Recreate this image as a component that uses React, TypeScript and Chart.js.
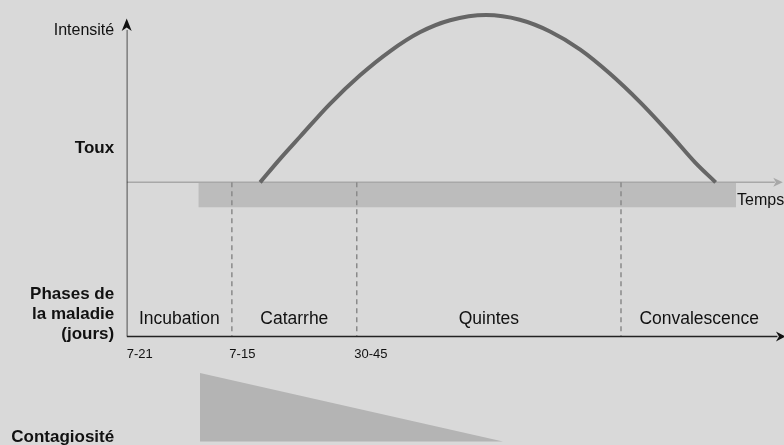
import React, { useEffect, useRef } from "react";
import { Chart, registerables } from "chart.js";

Chart.register(...registerables);

// ---- data (abstract units: x = time 0..100, y = intensity, 0 = time baseline) ----
const curveX = [20.3, 23.3, 26.4, 30.9, 35.5, 40.1, 44.6, 49.2, 54.7, 59.8, 64.4, 69.0, 73.5, 78.1, 82.7, 86.5, 89.6];
const curveY = [0, 13.9, 27.4, 46.8, 64.0, 78.5, 89.7, 96.9, 100, 97.2, 90.2, 79.4, 65.1, 48.0, 28.7, 11.8, 0];

const phaseLabels = ["Incubation", "Catarrhe", "Quintes", "Convalescence"];
const phaseBounds = [0, 16, 35, 75.2, 99];
const durationLabels = ["7-21", "7-15", "30-45"];

const bandX = [10.9, 92.7];
const bandDepth = -14.9;

const contagionX = [11.15, 57.25];
const contagionY = [-113.9, -154.9];

const phaseAxisY = -92.2;
const intensityAxisTop = 91;
const timeAxisEnd = 98.6;
const phaseAxisEnd = 99;

const X_MIN = 0;
const X_MAX = 100;
const Y_MIN = -157;
const Y_MAX = 109;

const FONT = '"Liberation Sans", Arial, Helvetica, sans-serif';

const overlayPlugin = {
  id: "overlay",
  beforeDraw(chart: any) {
    const { ctx, width, height } = chart;
    ctx.save();
    ctx.fillStyle = "#d9d9d9";
    ctx.fillRect(0, 0, width, height);
    ctx.restore();
  },
  afterDatasetsDraw(chart: any) {
    const { ctx } = chart;
    const xs = chart.scales.x;
    const ys = chart.scales.y;
    const px = (v: number) => xs.getPixelForValue(v);
    const py = (v: number) => ys.getPixelForValue(v);
    const x0 = px(0);
    const yBase = py(0);
    const yAxis = py(phaseAxisY);

    ctx.save();
    const arrow = (pts: number[][], color: string) => {
      ctx.beginPath();
      ctx.moveTo(pts[0][0], pts[0][1]);
      for (let i = 1; i < pts.length; i++) ctx.lineTo(pts[i][0], pts[i][1]);
      ctx.closePath();
      ctx.fillStyle = color;
      ctx.fill();
    };
    const vTop = py(intensityAxisTop);
    arrow([[x0, vTop - 11.5], [x0 + 5, vTop + 1], [x0, vTop - 2.5], [x0 - 5, vTop + 1]], "#111");
    const hEnd = px(phaseAxisEnd);
    arrow([[hEnd + 8, yAxis], [hEnd - 1.5, yAxis - 5], [hEnd + 1.5, yAxis], [hEnd - 1.5, yAxis + 5]], "#111");
    const gEnd = px(timeAxisEnd);
    arrow([[gEnd + 8, yBase], [gEnd - 1.5, yBase - 4.5], [gEnd + 1, yBase], [gEnd - 1.5, yBase + 4.5]], "#a8a8a8");

    ctx.fillStyle = "#111";
    ctx.textBaseline = "alphabetic";

    // phase labels
    ctx.font = `17.5px ${FONT}`;
    ctx.textAlign = "center";
    phaseLabels.forEach((lab, i) => {
      const mid = (phaseBounds[i] + phaseBounds[i + 1]) / 2;
      ctx.fillText(lab, px(mid), yAxis - 12.5);
    });

    // duration labels
    ctx.font = `13px ${FONT}`;
    ctx.textAlign = "left";
    durationLabels.forEach((lab, i) => {
      ctx.fillText(lab, px(phaseBounds[i]) - (i === 0 ? 0 : 2.5), yAxis + 21.5);
    });

    // left labels
    const rightX = x0 - 12.5;
    ctx.textAlign = "right";
    ctx.font = `16px ${FONT}`;
    ctx.fillText("Intensité", rightX, vTop + 5);
    ctx.font = `bold 17px ${FONT}`;
    ctx.fillText("Toux", rightX, yBase - 29);
    ctx.fillText("Phases de", rightX, yAxis - 38);
    ctx.fillText("la maladie", rightX, yAxis - 17.5);
    ctx.fillText("(jours)", rightX, yAxis + 2.5);
    ctx.fillText("Contagiosité", rightX, py(contagionY[1]) + 0.5);

    // Temps
    ctx.textAlign = "left";
    ctx.font = `16px ${FONT}`;
    ctx.fillText("Temps", px(bandX[1]) + 1, yBase + 23);
    ctx.restore();
  },
};

export default function App() {
  const ref = useRef<HTMLCanvasElement | null>(null);

  useEffect(() => {
    document.body.style.margin = "0";
    const canvas = ref.current;
    if (!canvas) return;

    const lineDs = (data: { x: number; y: number }[], extra: any) => ({
      type: "line",
      data,
      pointRadius: 0,
      borderWidth: 1.5,
      fill: false,
      tension: 0,
      ...extra,
    });

    const dashed = phaseBounds.slice(1, 4).map((b) =>
      lineDs(
        [
          { x: b, y: 0 },
          { x: b, y: phaseAxisY },
        ],
        { borderColor: "#8a8a8a", borderDash: [5, 4], borderWidth: 1.5, order: 2 }
      )
    );

    const chart = new Chart(canvas, {
      type: "line",
      data: {
        datasets: [
          lineDs(
            curveX.map((x, i) => ({ x, y: curveY[i] })),
            { borderColor: "#666666", borderWidth: 4, tension: 0.4, cubicInterpolationMode: "monotone", order: 0 }
          ),
          ...dashed,
          lineDs(
            [
              { x: 0, y: phaseAxisY },
              { x: 0, y: intensityAxisTop },
            ],
            { borderColor: "#222", borderWidth: 1.5, order: 1 }
          ),
          lineDs(
            [
              { x: 0, y: phaseAxisY },
              { x: phaseAxisEnd, y: phaseAxisY },
            ],
            { borderColor: "#222", borderWidth: 1.5, order: 1 }
          ),
          lineDs(
            [
              { x: 0, y: 0 },
              { x: timeAxisEnd, y: 0 },
            ],
            { borderColor: "#a8a8a8", borderWidth: 1.5, order: 3 }
          ),
          lineDs(
            [
              { x: bandX[0], y: 0 },
              { x: bandX[1], y: 0 },
            ],
            { borderWidth: 0, borderColor: "rgba(0,0,0,0)", backgroundColor: "#bcbcbc", fill: { value: bandDepth }, order: 4 }
          ),
          lineDs(
            contagionX.map((x, i) => ({ x, y: contagionY[i] })),
            { borderWidth: 0, borderColor: "rgba(0,0,0,0)", backgroundColor: "#b4b4b4", fill: { value: contagionY[1] }, order: 4 }
          ),
        ] as any,
      },
      options: {
        responsive: false,
        animation: false,
        layout: { padding: { left: 126.7, right: 0, top: 0, bottom: 0 } },
        plugins: { legend: { display: false }, tooltip: { enabled: false } },
        scales: {
          x: { type: "linear", min: X_MIN, max: X_MAX, display: false },
          y: { type: "linear", min: Y_MIN, max: Y_MAX, display: false },
        },
      } as any,
      plugins: [overlayPlugin],
    });
    return () => chart.destroy();
  }, []);

  return <canvas ref={ref} width={784} height={445} style={{ display: "block" }} />;
}
